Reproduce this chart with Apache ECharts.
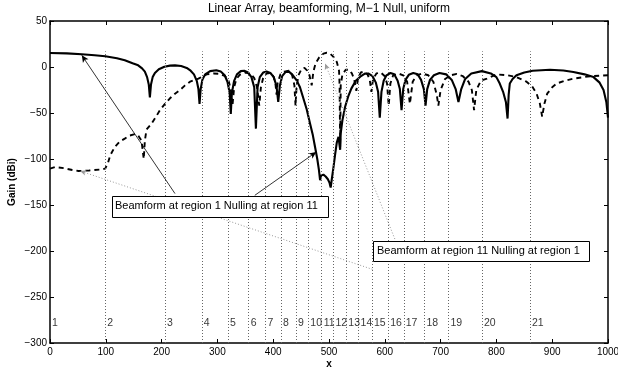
<!DOCTYPE html>
<html lang="en">
<head>
<meta charset="UTF-8">
<title>Linear Array, beamforming, M-1 Null, uniform</title>
<script src="https://cdn.jsdelivr.net/npm/echarts@6.0.0/dist/echarts.min.js"></script>
<style>
    html, body { margin: 0; padding: 0; background: #fff; }
    #chartmain { width: 618px; height: 368px; }
</style>
</head>
<body>
<div id="chartmain"></div>
<script>
// beamform at region 1, null at region 11 (solid)
var solidX = [0, 30, 57, 80, 99, 120, 134, 148, 158, 165, 170, 174, 177, 179, 181, 184, 188, 195, 205, 215,
    224, 235, 245, 252, 258, 263, 266, 268, 270, 273, 278, 287, 298, 306, 313, 318, 322, 324, 326, 330,
    335, 342, 348, 355, 361, 366, 369, 372, 376, 382, 388, 395, 401, 406, 409, 412, 416, 422, 428, 434,
    442, 448, 454, 460, 466, 471, 475, 479, 482, 484, 486, 490, 494, 498, 501, 503, 505, 508, 511, 514,
    517, 520, 521, 524, 529, 535, 540, 548, 556, 565, 571, 578, 584, 588, 591, 594, 598, 603, 610, 617,
    623, 627, 630, 633, 637, 643, 651, 659, 665, 670, 673, 676, 681, 688, 698, 710, 720, 727, 732, 737,
    744, 755, 774, 790, 800, 806, 812, 817, 820, 822, 824, 829, 836, 850, 865, 896, 920, 938, 958, 974,
    985, 992, 997, 1000];
var solidY = [15.2, 14.8, 13.8, 12.8, 11.6, 9.5, 7.3, 4, 1.8, -1.5, -5, -11, -19, -33, -19, -11, -6.5, -2.5, 0.3, 1.5,
    1.8, 1, -1, -4, -8, -15, -24, -40, -24, -14, -8, -4.5, -3.6, -5, -9, -16, -28, -51, -28, -15,
    -8, -4.5, -4, -6, -11, -22, -67, -22, -11, -6, -5, -6.5, -11, -21, -38, -20, -10, -5.5, -5, -8,
    -14.5, -22, -34, -46, -61.5, -74, -87, -100, -112, -123, -118, -117, -119, -122, -126, -131, -122, -109, -95, -82,
    -76, -90, -72, -58, -43, -31, -23.5, -15, -10.5, -7, -7.2, -10, -17, -27, -55, -27, -15, -9, -6.5, -8,
    -15, -24, -47, -24, -14, -8.5, -6.5, -8, -14, -24, -42, -24, -14, -9, -6.5, -8, -14, -24, -38, -24,
    -13, -7, -4.5, -7, -11, -18, -27, -38, -56, -30, -18, -13, -9, -6, -4, -3, -3.8, -5.5, -8, -11,
    -17, -25, -38, -55];

// beamform at region 11, null at region 1 (dashed)
var dashX = [0, 9, 25, 40, 51, 70, 90, 99, 104, 108, 116, 125, 134, 143, 152, 158, 164, 168, 170, 173,
    182, 190, 197, 206, 215, 224, 233, 242, 251, 260, 266, 274, 281, 293, 305, 314, 320, 324, 327, 330,
    334, 340, 350, 360, 366, 371, 375, 378, 382, 388, 396, 401, 404, 406, 408, 413, 420, 428, 434, 438,
    440, 442, 446, 451, 456, 461, 465, 469, 472, 476, 482, 490, 496, 502, 508, 514, 518, 519, 520, 521,
    524, 530, 536, 541, 545, 549, 552, 557, 563, 569, 573, 576, 579, 585, 593, 600, 604, 607, 610, 615,
    624, 633, 640, 645, 650, 657, 667, 678, 687, 693, 696, 700, 708, 718, 729, 740, 750, 756, 760, 764,
    772, 783, 800, 820, 836, 854, 864, 872, 878, 882, 886, 891, 900, 908, 922, 938, 968, 1000];
var dashY = [-110.5, -108.7, -110, -112, -113, -112.5, -111.5, -110.5, -104, -96, -87, -81, -77.8, -74.5, -73, -74.5, -80, -100, -80, -68,
    -61.5, -54, -47, -40, -34, -29, -25, -20, -16, -14, -12.7, -10, -8, -7, -7.5, -10, -15, -24, -42, -22,
    -13, -8.5, -6, -7.5, -12, -22, -42, -22, -12, -7, -6.5, -11, -18, -30, -17, -8, -5, -4, -9, -20,
    -42, -20, -8, -2, -1, -4, -9, -20, -5, 4, 10, 14.5, 15.5, 14.5, 11, 5.4, -4, -20, -87, -20,
    -8, -3, -3, -7, -13, -26, -12, -6, -5, -8, -14, -27, -13, -7, -6, -10, -18, -42, -18, -9,
    -7, -9, -16, -40, -16, -9, -7, -9, -16, -30, -42, -25, -13, -9, -7.5, -10, -16, -25, -47, -25,
    -15, -12.7, -8, -9, -11, -16, -21, -29, -40, -54, -40, -29, -22, -18, -15, -12.7, -10, -9];

// region boundaries and their labels
var regionStarts = [0, 99, 206, 272, 319, 356, 386, 414, 441, 463, 487, 508, 531, 553, 577, 606, 634, 671, 714, 774, 860];
var regionNames = ['1','2','3','4','5','6','7','8','9','10','11','12','13','14','15','16','17','18','19','20','21'];

// annotation arrows, [from, to] in data units
var solidArrows = [[[224, -137.6], [57, 12.7]], [[367, -139.5], [477, -92.5]]];
var dottedArrows = [[[578, -220], [54, -113]], [[618, -187], [493, 3.7]]];

var FONT = "'Liberation Sans', Arial, Helvetica, sans-serif";
var labelY = -278;
var lineTop = 17;

function pairs(xs, ys) {
    var out = [];
    for (var i = 0; i < xs.length; i++) out.push([xs[i], ys[i]]);
    return out;
}

function minus(v) { return String(v).replace('-', '\u2212'); }

var vLines = [];
regionStarts.forEach(function (b) {
    if (b > 0) vLines.push([{coord: [b, -300]}, {coord: [b, lineTop]}]);
});

var frameLine = {onZero: false, lineStyle: {color: '#000', width: 1.5}};
var frameTick = {inside: true, length: 4, lineStyle: {color: '#000'}};

var option = {
    animation: false,
    backgroundColor: '#fff',
    textStyle: {fontFamily: FONT},
    title: {
        text: 'Linear Array, beamforming, M\u22121 Null, uniform',
        left: 329, top: 3, textAlign: 'center', padding: 0,
        textStyle: {fontSize: 12, fontWeight: 'normal', color: '#000', fontFamily: FONT}
    },
    grid: {left: 50, right: 10, top: 21, bottom: 25, containLabel: false, outerBoundsMode: 'none'},
    xAxis: [{
        type: 'value', min: 0, max: 1000, interval: 100,
        name: 'x', nameLocation: 'middle', nameGap: 16, nameMoveOverlap: false,
        nameTextStyle: {fontWeight: 'bold', fontSize: 10, color: '#000', fontFamily: FONT},
        axisLine: frameLine, axisTick: frameTick,
        axisLabel: {fontSize: 10, color: '#000', margin: 4, fontFamily: FONT,
            formatter: function (v) { return String(v); }},
        splitLine: {show: false}
    }, {
        type: 'value', min: 0, max: 1000, interval: 100, position: 'top',
        axisLine: frameLine, axisTick: frameTick,
        axisLabel: {show: false},
        splitLine: {show: false}
    }],
    yAxis: [{
        type: 'value', min: -300, max: 50, interval: 50,
        name: 'Gain (dBi)', nameLocation: 'middle', nameGap: 33, nameMoveOverlap: false,
        nameTextStyle: {fontWeight: 'bold', fontSize: 10, color: '#000', fontFamily: FONT},
        axisLine: frameLine, axisTick: frameTick,
        axisLabel: {fontSize: 10, color: '#000', margin: 3, formatter: minus, fontFamily: FONT},
        splitLine: {show: false}
    }, {
        type: 'value', min: -300, max: 50, interval: 50, position: 'right',
        axisLine: frameLine, axisTick: frameTick,
        axisLabel: {show: false},
        splitLine: {show: false}
    }],
    series: [{
        // region boundaries
        type: 'line', data: [], silent: true, z: 1,
        markLine: {
            silent: true, symbol: ['none', 'none'], label: {show: false},
            lineStyle: {color: '#666', width: 1, type: [1, 2]},
            data: vLines
        }
    }, {
        name: 'region 11 beam', type: 'line', data: pairs(dashX, dashY),
        showSymbol: false, z: 3,
        lineStyle: {color: '#000', width: 1.9, type: [5, 4]}
    }, {
        name: 'region 1 beam', type: 'line', data: pairs(solidX, solidY),
        showSymbol: false, z: 4,
        lineStyle: {color: '#000', width: 2.1}
    }, {
        // annotation arrows
        type: 'line', data: [], silent: true, z: 5,
        markLine: {
            silent: true, symbol: ['none', 'arrow'], symbolSize: [5, 7], label: {show: false},
            lineStyle: {color: '#000', width: 0.8, type: 'solid'},
            data: solidArrows.map(function (a) { return [{coord: a[0]}, {coord: a[1]}]; })
        }
    }, {
        type: 'line', data: [], silent: true, z: 5,
        markLine: {
            silent: true, symbol: ['none', 'arrow'], symbolSize: [4, 6], label: {show: false},
            lineStyle: {color: '#999', width: 1, type: [1, 2]},
            itemStyle: {color: '#999'},
            data: dottedArrows.map(function (a) { return [{coord: a[0]}, {coord: a[1]}]; })
        }
    }, {
        // region numbers
        type: 'scatter', symbolSize: 0, silent: true, z: 6,
        data: regionStarts.map(function (b, i) { return {value: [b, labelY], name: regionNames[i]}; }),
        label: {
            show: true, position: 'right', distance: 2,
            formatter: function (p) { return p.name; },
            fontSize: 10.5, color: '#000', fontFamily: FONT
        }
    }],
    graphic: [{
        type: 'rect', left: 112, top: 196, z: 10,
        shape: {width: 216, height: 21},
        style: {fill: '#fff', stroke: '#000', lineWidth: 1}
    }, {
        type: 'text', left: 115, top: 200, z: 11,
        style: {text: 'Beamform at region 1 Nulling at region 11', fill: '#000', font: '11px ' + FONT}
    }, {
        type: 'rect', left: 373, top: 241, z: 10,
        shape: {width: 216, height: 20},
        style: {fill: '#fff', stroke: '#000', lineWidth: 1}
    }, {
        type: 'text', left: 377, top: 245, z: 11,
        style: {text: 'Beamform at region 11 Nulling at region 1', fill: '#000', font: '11px ' + FONT}
    }]
};

var myChart = echarts.init(document.getElementById('chartmain'), null, {renderer: 'canvas'});
myChart.setOption(option);
</script>
</body>
</html>
